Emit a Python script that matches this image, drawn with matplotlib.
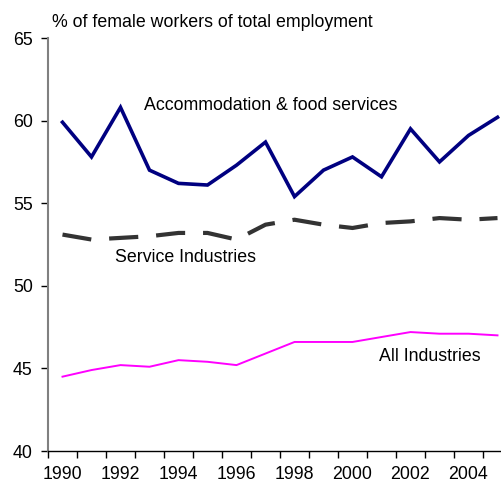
import numpy as np
import matplotlib.pyplot as plt

plt.rcParams['font.family'] = ['Liberation Sans', 'DejaVu Sans']

years = np.arange(1990, 2006)
accommodation = [59.9, 57.8, 60.8, 57.0, 56.2, 56.1, 57.3, 58.7, 55.4, 57.0,
                 57.8, 56.6, 59.5, 57.5, 59.1, 60.2]
services = [53.1, 52.8, 52.9, 53.0, 53.2, 53.2, 52.8, 53.7, 54.0, 53.7,
            53.5, 53.8, 53.9, 54.1, 54.0, 54.1]
all_industries = [44.5, 44.9, 45.2, 45.1, 45.5, 45.4, 45.2, 45.9, 46.6, 46.6,
                  46.6, 46.9, 47.2, 47.1, 47.1, 47.0]

fs = 12.8

fig = plt.figure(figsize=(5.02, 4.84), dpi=100)
# axes run past the right edge like the original (cropped)
ax = fig.add_axes([48 / 502, 1 - 451 / 484, 464 / 502, 413 / 484])

x = np.arange(len(years))
ax.plot(x, accommodation, color='#000080', lw=2.6, solid_joinstyle='miter')
ax.plot(x, services, color='#333333', lw=3.0, dashes=(7, 4.3))
ax.plot(x, all_industries, color='#FF00FF', lw=1.4)

ax.set_xlim(-0.5, 15.5)
ax.set_ylim(40, 65)
ax.set_yticks([40, 45, 50, 55, 60, 65])
ax.set_xticks(x[::2])
ax.set_xticklabels([str(y) for y in years[::2]])
ax.set_xticks(np.arange(-0.5, 16, 1), minor=True)
ax.tick_params(axis='x', which='major', length=0, pad=10.5, labelsize=fs)
ax.tick_params(axis='x', which='minor', length=5, width=1, color='black', direction='out')
ax.tick_params(axis='y', length=5, width=1, color='black', labelsize=fs, pad=6)

ax.spines['top'].set_visible(False)
ax.spines['right'].set_visible(False)
ax.spines['left'].set_color('#808080')
ax.spines['left'].set_linewidth(1.5)
ax.spines['bottom'].set_color('black')
ax.spines['bottom'].set_linewidth(1)

fig.text(52 / 502, 1 - 27 / 484, '% of female workers of total employment',
         fontsize=fs, va='baseline')
ax.text(2.8, 60.9, 'Accommodation & food services', fontsize=fs, va='center')
ax.text(1.8, 51.7, 'Service Industries', fontsize=fs, va='center')
ax.text(10.9, 45.7, 'All Industries', fontsize=fs, va='center')

fig.savefig('out.png', dpi=100)
